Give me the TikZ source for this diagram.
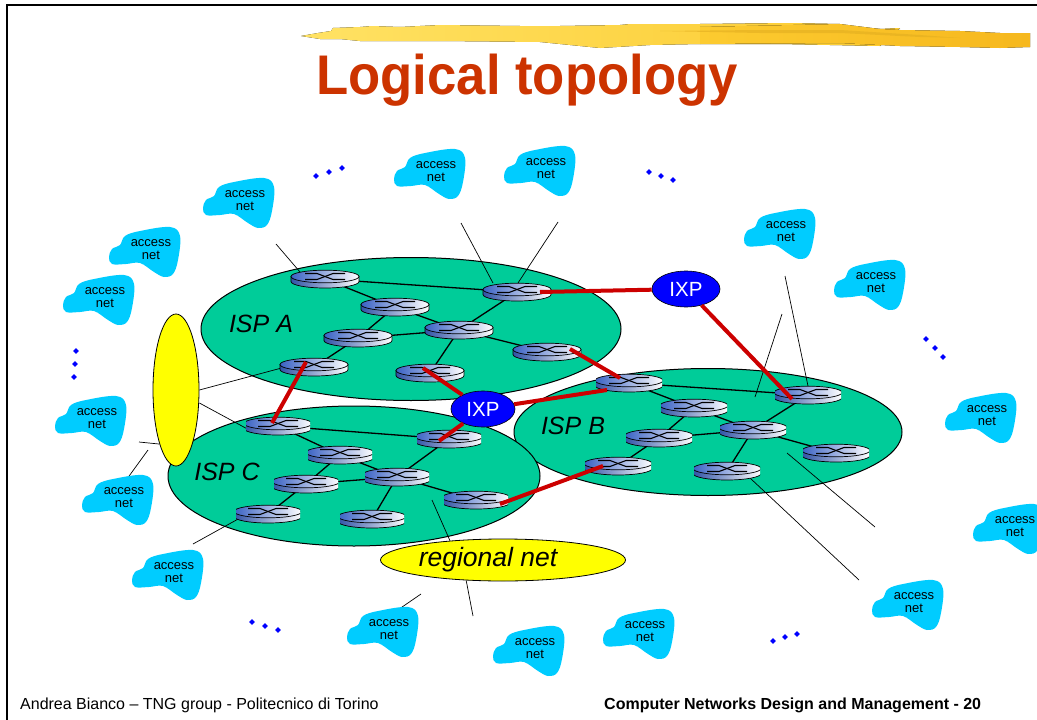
\documentclass[tikz,border=0pt]{standalone}
\usepackage{fontspec}
\setmainfont{Liberation Sans}
\usetikzlibrary{shapes.geometric}
\pgfdeclarelayer{isp}
\pgfdeclarelayer{links}
\pgfsetlayers{isp,links,main}
\definecolor{ispgreen}{HTML}{00CC99}
\definecolor{netyellow}{HTML}{FFFF00}
\definecolor{accesscyan}{HTML}{00CCFF}
\definecolor{routerblue}{HTML}{3A62C4}
\definecolor{linkred}{HTML}{CC0000}
\definecolor{titlered}{HTML}{CC3300}
\definecolor{brushlight}{HTML}{FFE264}
\definecolor{brushmid}{HTML}{FCCB30}
\definecolor{brushdark}{HTML}{F6B81E}
\definecolor{brushstreak}{HTML}{E2AE20}
\tikzset{
  ispnet/.style={draw, ellipse, fill=ispgreen, line width=1pt, inner sep=0pt},
  yellownet/.style={draw, ellipse, fill=netyellow, line width=0.8pt, inner sep=0pt},
  ixpnode/.style={draw, ellipse, fill=blue, text=white, line width=0.6pt, inner sep=0pt,
    minimum width=#1, minimum height=36, font=\fontsize{20.5}{22}\selectfont},
  isplabel/.style={font=\itshape\fontsize{25}{27}\selectfont, inner sep=0pt},
  accesslabel/.style={align=center, inner sep=0pt, font=\fontsize{13}{13.4}\selectfont},
  router/.style={rectangle, inner sep=0pt, minimum width=#1+2, minimum height=20,
    path picture={
      \begin{scope}[shift={(path picture bounding box.center)}, xscale=#1/68]
        \shadedraw[left color=routerblue!85!black, middle color=routerblue!45!white, right color=white, line width=0.7pt]
          (-34,-2.5) -- (-34,2.5) .. controls (-34,6.1) and (-18.8,9) .. (0,9)
          .. controls (18.8,9) and (34,6.1) .. (34,2.5) -- (34,-2.5) -- cycle;
        \shadedraw[left color=routerblue, middle color=routerblue!35!white, right color=white, line width=0.7pt]
          (0,-2.5) ellipse [x radius=34, y radius=6.3];
        \draw[line width=1.1pt] (-20,-5.5) -- (-8,-5.5) -- (8,0.5) -- (20,0.5);
        \draw[line width=1.1pt] (-20,0.5) -- (-8,0.5) -- (8,-5.5) -- (20,-5.5);
      \end{scope}
    }},
  routerlink/.style={line width=1.3pt},
  thinlink/.style={line width=0.7pt},
  redlink/.style={draw=linkred, line width=4pt},
  bluedot/.style={diamond, fill=blue, inner sep=0pt, minimum size=6pt},
  accesspic/.pic={
    \fill[accesscyan] plot[smooth cycle, tension=0.6] coordinates {(-42,9) (-39,1) (-31,-3) (-26,-12)
      (-11,-17) (19,-21) (29,-12) (27,12) (22,26) (13,29) (3,24) (-11,15) (-25,16) (-39,16)};
  }
}
\begin{document}
\begin{tikzpicture}[x=1pt, y=-1pt]
  \useasboundingbox (0,0) rectangle (1037,720);

  % Frame
  \draw[line width=2pt] (7,720) -- (7,5) -- (1037,5);

  % Brush stroke and title
  \fill[left color=brushlight, right color=brushmid]
    (301,36) -- (318,33) -- (331,31) -- (333,28) -- (360,27) -- (372,26) -- (400,27) -- (440,25)
    -- (520,26) -- (560,26) -- (620,25) -- (630,24) -- (700,24) -- (790,23) -- (840,24) -- (842,27)
    -- (860,28) -- (880,29) -- (900,28) -- (880,46) -- (780,44) -- (700,44) -- (650,45) -- (600,48)
    -- (590,47) -- (560,44) -- (540,42) -- (440,41) -- (360,41) -- (340,39) -- (320,39) -- cycle;
  \fill[left color=brushmid, right color=brushdark]
    (700,27) -- (840,24) -- (880,29) -- (900,30) -- (960,31) -- (1000,33) -- (1030,33) -- (1030,47)
    -- (1000,48) -- (960,47) -- (900,46) -- (840,43) -- (700,44) -- cycle;
  \fill[brushstreak, opacity=0.6]
    (660,31) -- (760,30) -- (840,30) -- (920,35) -- (960,38) -- (920,37) -- (840,33) -- (760,33) -- cycle;
  \node[font=\bfseries\fontsize{52.7}{56}\selectfont, text=titlered, inner sep=0pt, transform shape, yscale=1.06] (title) at (527,80) {Logical topology};

  % ISP clouds
  \begin{pgfonlayer}{isp}
    \node[ispnet, minimum width=420, minimum height=143] (ispa) at (411,329) {};
    \node[ispnet, minimum width=388, minimum height=127] (ispb) at (708,432) {};
    \node[ispnet, minimum width=372, minimum height=140] (ispc) at (354,476) {};
  \end{pgfonlayer}
  \node[isplabel] (ispatext) at (261,324) {ISP A};
  \node[isplabel] (ispbtext) at (573,426) {ISP B};
  \node[isplabel] (ispctext) at (227,472) {ISP C};

  % Routers of ISP A
  \node[router=68] (ra1) at (325,279) {};
  \node[router=68] (ra2) at (395,307) {};
  \node[router=68] (ra3) at (358,338) {};
  \node[router=68] (ra4) at (314,367) {};
  \node[router=68] (ra5) at (459,330) {};
  \node[router=68] (ra6) at (430,373) {};
  \node[router=68] (ra7) at (517,292) {};
  \node[router=68] (ra8) at (547,352) {};

  % Routers of ISP B
  \node[router=64] (rb1) at (629,383) {};
  \node[router=64] (rb2) at (694,408) {};
  \node[router=64] (rb3) at (659,438) {};
  \node[router=64] (rb4) at (618,466) {};
  \node[router=64] (rb5) at (753,430) {};
  \node[router=64] (rb6) at (727,471) {};
  \node[router=64] (rb7) at (808,395) {};
  \node[router=64] (rb8) at (836,453) {};

  % Routers of ISP C
  \node[router=62] (rc1) at (278,426) {};
  \node[router=62] (rc2) at (340,455) {};
  \node[router=62] (rc3) at (306,484) {};
  \node[router=62] (rc4) at (268,514) {};
  \node[router=62] (rc5) at (397,477) {};
  \node[router=62] (rc6) at (372,519) {};
  \node[router=62] (rc7) at (449,439) {};
  \node[router=62] (rc8) at (476,500) {};

  % Links inside the ISPs
  \begin{pgfonlayer}{links}
    \foreach \netname in {a,b,c} {
      \draw[routerlink] (r\netname 1.center) -- (r\netname 7.center);
      \draw[routerlink] (r\netname 1.center) -- (r\netname 2.center);
      \draw[routerlink] (r\netname 2.center) -- (r\netname 3.center);
      \draw[routerlink] (r\netname 3.center) -- (r\netname 4.center);
      \draw[routerlink] (r\netname 2.center) -- (r\netname 5.center);
      \draw[routerlink] (r\netname 3.center) -- (r\netname 5.center);
      \draw[routerlink] (r\netname 5.center) -- (r\netname 7.center);
      \draw[routerlink] (r\netname 5.center) -- (r\netname 8.center);
      \draw[routerlink] (r\netname 5.center) -- (r\netname 6.center);
    }
  \end{pgfonlayer}

  % Access nets
  \foreach \nm/\cx/\cy in {1/245/199, 2/151/248, 3/105/296, 4/97/417, 5/124/496, 6/174/571,
      7/389/628, 8/535/647, 9/645/630, 10/436/170, 11/546/167, 12/786/230, 13/876/281,
      14/987/414, 15/1015/525, 16/914/601} {
    \pic at (\cx,\cy) {accesspic};
    \node[accesslabel] (acc\nm) at (\cx,\cy+1.5) {access\\net};
  }

  % Free ends of the thin lines
  \coordinate (enda) at (276,244);
  \coordinate (endb) at (461,223);
  \coordinate (endc) at (558,222);
  \coordinate (endd) at (785,276);
  \coordinate (ende) at (782,314);
  \coordinate (endf) at (755,397);
  \coordinate (endg) at (875,527);
  \coordinate (endh) at (787,453);
  \coordinate (endi) at (859,580);
  \coordinate (endj) at (193,544);
  \coordinate (endk) at (139,442);
  \coordinate (endl) at (148,450);
  \coordinate (endm) at (432,500);
  \coordinate (endn) at (473,616);
  \coordinate (endo) at (421,594);

  % Yellow nets
  \node[yellownet, minimum width=46, minimum height=152] (leftnet) at (176,390) {};
  \node[yellownet, minimum width=245, minimum height=42] (regional) at (503,560) {};
  \node[font=\itshape\fontsize{26.5}{28}\selectfont, inner sep=0pt] (regionaltext) at (488,560) {regional net};

  % Thin lines
  \begin{pgfonlayer}{links}
    \draw[thinlink] (enda) -- ([shift={(-25,-7)}]ra1.center);
    \draw[thinlink] (endb) -- ([shift={(-24,-9)}]ra7.center);
    \draw[thinlink] (endc) -- ([shift={(1,-9)}]ra7.center);
    \draw[thinlink] (endd) -- ([shift={(0,-9)}]rb7.center);
    \draw[thinlink] (ende) -- (endf);
    \draw[thinlink] (endg) -- (endh);
    \draw[thinlink] (endi) -- ([shift={(23,7)}]rb6.center);
    \draw[thinlink] (endj) -- ([shift={(-28,4)}]rc4.center);
    \draw[thinlink] (leftnet.east) -- ([shift={(-10,-5)}]ra4.center);
    \draw[thinlink] (leftnet.east) ++(0,13) -- ([shift={(-25,6)}]rc1.center);
    \draw[thinlink] (endk) -- (leftnet.253);
    \draw[thinlink] (endl) -- ([shift={(0,-4)}]acc5.north);
    \draw[thinlink] (endm) -- (regional.160);
    \draw[thinlink] (regional.209) -- (endn);
    \draw[thinlink] (endo) -- ([shift={(0,-3)}]acc7.north);
  \end{pgfonlayer}

  % IXPs
  \node[ixpnode=68] (ixpa) at (686,289) {IXP};
  \node[ixpnode=64] (ixpb) at (483,409) {IXP};

  % Peering links
  \draw[redlink] ([shift={(23,0)}]ra7.center) -- (ixpa);
  \draw[redlink] (ixpa) -- ([shift={(-16,4)}]rb7.center);
  \draw[redlink] ([shift={(23,-3)}]ra8.center) -- ([shift={(-9,-5)}]rb1.center);
  \draw[redlink] ([shift={(-7,-5)}]ra6.center) -- (ixpb);
  \draw[redlink] (ixpb) -- ([shift={(-10,2)}]rc7.center);
  \draw[redlink] (ixpb) -- ([shift={(-22,7)}]rb1.center);
  \draw[redlink] ([shift={(-8,-5)}]ra4.center) -- ([shift={(-6,-3)}]rc1.center);
  \draw[redlink] ([shift={(24,4)}]rc8.center) -- ([shift={(-15,0)}]rb4.center);

  % Dots
  \foreach \dotx/\doty [count=\i] in {316/176, 329/172, 342/168, 649/172, 661/176, 673/180,
      76/351, 75/364, 74/377, 926/339, 935/348, 943/357, 252/622, 265/626, 278/630,
      773/641, 785/637, 797/634} {
    \node[bluedot] (dot\i) at (\dotx,\doty) {};
  }

  % Footer
  \node[anchor=west, inner sep=0pt, font=\fontsize{16}{18}\selectfont] (footleft) at (20,705)
    {Andrea Bianco -- TNG group - Politecnico di Torino};
  \node[anchor=west, inner sep=0pt, font=\bfseries\fontsize{16}{18}\selectfont] (footright) at (604,705)
    {Computer Networks Design and Management - 20};
\end{tikzpicture}
\end{document}
